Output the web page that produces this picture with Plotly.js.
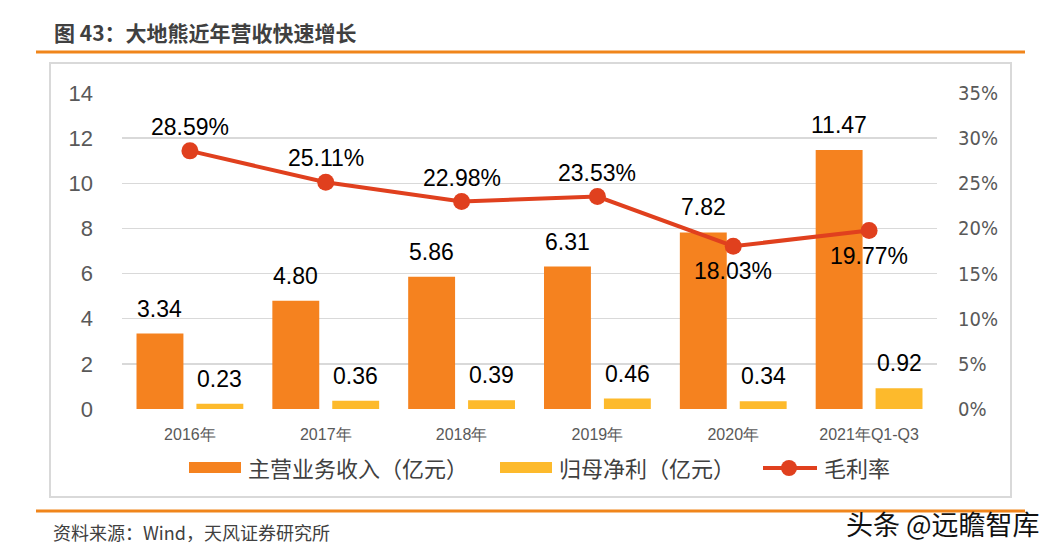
<!DOCTYPE html>
<html>
<head>
<meta charset="utf-8">
<script src="https://cdn.plot.ly/plotly-3.0.1.min.js"></script>
<style>
html,body{margin:0;padding:0;background:#fff;}
#chart{width:1048px;height:555px;}
</style>
</head>
<body>
<div id="chart"></div>
<script>
// ---- data ----
var categories = ["2016年", "2017年", "2018年", "2019年", "2020年", "2021年Q1-Q3"];
var revenue = [3.34, 4.80, 5.86, 6.31, 7.82, 11.47];      // 主营业务收入（亿元）
var netProfit = [0.23, 0.36, 0.39, 0.46, 0.34, 0.92];    // 归母净利（亿元）
var grossMargin = [28.59, 25.11, 22.98, 23.53, 18.03, 19.77]; // 毛利率 %
var marginLabelPos = ["above", "above", "above", "above", "below", "below"];
var leftTicks = [0, 2, 4, 6, 8, 10, 12, 14];
var rightTicks = [0, 5, 10, 15, 20, 25, 30, 35];
var seriesNames = ["主营业务收入（亿元）", "归母净利（亿元）", "毛利率"];

// ---- layout geometry (pixels) ----
var W = 1048, H = 555;
var L = 122, R = 937, T = 93, B = 409;
function px(x){ return (x - L) / (R - L); }
function py(y){ return (B - y) / (B - T); }

var cOrange = "#F5821F", cYellow = "#FDBA2C", cRed = "#E0401E";
var labelFont = {family: "Arial, 'Liberation Sans', sans-serif", size: 23, color: "#000000"};

var traces = [
  {type: "bar", name: seriesNames[0], x: categories, y: revenue,
   marker: {color: cOrange}, showlegend: false, hoverinfo: "skip"},
  {type: "bar", name: seriesNames[1], x: categories, y: netProfit,
   marker: {color: cYellow}, showlegend: false, hoverinfo: "skip"},
  {type: "scatter", mode: "lines+markers", name: seriesNames[2], x: categories, y: grossMargin,
   yaxis: "y2", line: {color: cRed, width: 4}, marker: {color: cRed, size: 17},
   showlegend: false, hoverinfo: "skip"}
];

var annotations = [];
var off = 0.2206;
categories.forEach(function(c, i){
  annotations.push({x: i - off, y: revenue[i], xref: "x", yref: "y", text: revenue[i].toFixed(2),
    showarrow: false, yanchor: "middle", yshift: 25, font: labelFont});
  annotations.push({x: i + off, y: netProfit[i], xref: "x", yref: "y", text: netProfit[i].toFixed(2),
    showarrow: false, yanchor: "middle", yshift: 25, font: labelFont});
  annotations.push({x: i, y: grossMargin[i], xref: "x", yref: "y2", text: grossMargin[i].toFixed(2) + "%",
    showarrow: false, yanchor: "middle", yshift: marginLabelPos[i] === "above" ? 24 : -25, font: labelFont});
});

// title, footer, watermark
annotations.push({xref: "paper", yref: "paper", x: px(52), y: py(32), xanchor: "left", yanchor: "middle",
  text: "<b>图 43：大地熊近年营收快速增长</b>", showarrow: false,
  font: {family: "'Noto Sans CJK SC', sans-serif", size: 21, color: "#404040"}});
annotations.push({xref: "paper", yref: "paper", x: px(51), y: py(532), xanchor: "left", yanchor: "middle",
  text: "资料来源：Wind，天风证券研究所", showarrow: false,
  font: {family: "'Noto Sans CJK SC', sans-serif", size: 18, color: "#404040"}});
annotations.push({xref: "paper", yref: "paper", x: px(1042), y: py(523), xanchor: "right", yanchor: "middle",
  text: "头条 @远瞻智库", showarrow: false,
  font: {family: "'Noto Sans CJK SC', sans-serif", size: 27, color: "#111111"}});

// custom legend
var legFont = {family: "'Noto Sans CJK SC', sans-serif", size: 22, color: "#404040"};
var legY = 467;
annotations.push({xref: "paper", yref: "paper", x: px(246), y: py(legY), xanchor: "left", yanchor: "middle",
  text: seriesNames[0], showarrow: false, font: legFont});
annotations.push({xref: "paper", yref: "paper", x: px(557), y: py(legY), xanchor: "left", yanchor: "middle",
  text: seriesNames[1], showarrow: false, font: legFont});
annotations.push({xref: "paper", yref: "paper", x: px(822), y: py(legY), xanchor: "left", yanchor: "middle",
  text: seriesNames[2], showarrow: false, font: legFont});

var shapes = [
  // top orange rule
  {type: "line", xref: "paper", yref: "paper", x0: px(36), x1: px(1025), y0: py(52), y1: py(52),
   line: {color: "#F0851B", width: 3}},
  // bottom orange rule
  {type: "line", xref: "paper", yref: "paper", x0: px(36), x1: px(1025), y0: py(511), y1: py(511),
   line: {color: "#F0851B", width: 3}},
  // chart frame
  {type: "rect", xref: "paper", yref: "paper", x0: px(50), x1: px(1011), y0: py(63), y1: py(497),
   line: {color: "#D9D9D9", width: 2}, layer: "below"},
  // legend swatches
  {type: "rect", xref: "paper", yref: "paper", x0: px(189), x1: px(241), y0: py(462), y1: py(473),
   fillcolor: cOrange, line: {width: 0}},
  {type: "rect", xref: "paper", yref: "paper", x0: px(500), x1: px(552), y0: py(462), y1: py(473),
   fillcolor: cYellow, line: {width: 0}},
  {type: "line", xref: "paper", yref: "paper", x0: px(763), x1: px(817), y0: py(468), y1: py(468),
   line: {color: cRed, width: 4}},
  {type: "circle", xref: "paper", yref: "paper", x0: px(781), x1: px(797), y0: py(460), y1: py(476),
   fillcolor: cRed, line: {width: 0}}
];

var tickFont = {family: "Arial, 'Liberation Sans', sans-serif", size: 22, color: "#595959"};
var layout = {
  width: W, height: H,
  margin: {l: L, r: W - R, t: T, b: H - B, pad: 0},
  paper_bgcolor: "#ffffff", plot_bgcolor: "rgba(0,0,0,0)",
  barmode: "group", bargap: 0.118, bargroupgap: 0.217,
  showlegend: false,
  xaxis: {type: "category", showgrid: false, zeroline: false, showline: false, ticks: "",
    tickfont: {family: "'Liberation Sans Narrow', Arial, sans-serif", size: 16, color: "#595959"},
    ticklabelstandoff: 14, fixedrange: true},
  yaxis: {range: [0, 14], tickvals: leftTicks, ticktext: leftTicks.map(String),
    showgrid: true, gridcolor: "#D9D9D9", gridwidth: 1.5, zeroline: false, showline: false,
    tickfont: tickFont, ticklabelstandoff: 28, ticks: "", fixedrange: true},
  yaxis2: {range: [0, 35], overlaying: "y", side: "right", tickvals: rightTicks,
    ticktext: rightTicks.map(function(v){ return v + "%"; }),
    showgrid: false, zeroline: false, showline: false, ticks: "",
    tickfont: {family: "'DejaVu Sans Condensed', Arial, sans-serif", size: 20, color: "#595959"},
    ticklabelstandoff: 20, fixedrange: true},
  annotations: annotations,
  shapes: shapes
};

Plotly.newPlot("chart", traces, layout, {displayModeBar: false, staticPlot: true});
</script>
</body>
</html>
